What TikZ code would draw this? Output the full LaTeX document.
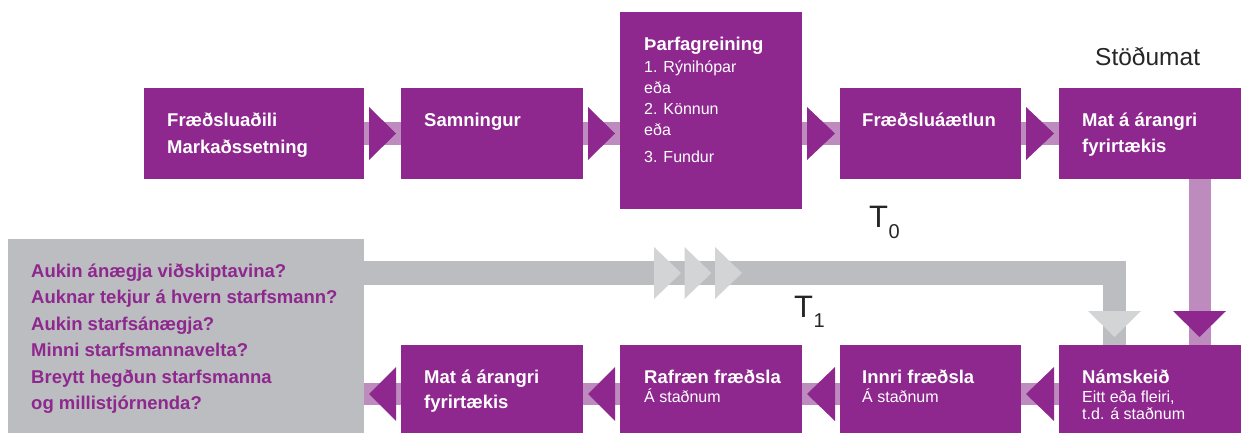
\documentclass[tikz,border=0pt]{standalone}
\usepackage{fontspec}
\setmainfont{Liberation Sans}
\usetikzlibrary{calc}
\definecolor{dp}{HTML}{8E278E}
\definecolor{lp}{HTML}{BD8BBE}
\definecolor{gb}{HTML}{BCBDC0}
\definecolor{lg}{HTML}{D3D4D6}
\newcommand\myB{\bfseries\fontsize{18.5}{22}\selectfont}
\newcommand\myL{\fontsize{16}{19}\selectfont}
\begin{document}
\begin{tikzpicture}[x=1pt,y=-1pt,
  box/.style={fill=dp, inner sep=0pt, outer sep=0pt, anchor=north west},
  greybox/.style={fill=gb, inner sep=0pt, outer sep=0pt, anchor=north west},
  tb/.style={anchor=base west, inner sep=0pt, text=white, font=\myB},
  tl/.style={anchor=base west, inner sep=0pt, text=white, font=\myL},
  tq/.style={anchor=base west, inner sep=0pt, text=dp, font=\myB},
  lbar/.style={draw=lp, line width=22pt},
  gbar/.style={draw=gb, line width=23.5pt, line join=miter},
  tbig/.style={anchor=base west, inner sep=0pt, text=black!85, font=\fontsize{31}{36}\selectfont},
  tsmall/.style={anchor=base west, inner sep=0pt, text=black!85, font=\fontsize{20}{24}\selectfont},
  head/.style={anchor=base west, inner sep=0pt, text=black!85, font=\fontsize{24.5}{28}\selectfont}]
\useasboundingbox (0,0) rectangle (1241,433);

% boxes (top row)
\node[box, minimum width=220pt, minimum height=91pt] (b1) at (144,88) {};
\node[box, minimum width=182pt, minimum height=91pt] (b2) at (401,88) {};
\node[box, minimum width=182pt, minimum height=197pt] (b3) at (620,12) {};
\node[box, minimum width=181pt, minimum height=91pt] (b4) at (840,88) {};
\node[box, minimum width=182pt, minimum height=91pt] (b5) at (1059,88) {};
% boxes (bottom row)
\node[greybox, minimum width=356pt, minimum height=204pt] (g) at (8,239) {};
\node[box, minimum width=182pt, minimum height=98pt] (c1) at (401,345) {};
\node[box, minimum width=182pt, minimum height=98pt] (c2) at (620,345) {};
\node[box, minimum width=181pt, minimum height=98pt] (c3) at (840,345) {};
\node[box, minimum width=182pt, minimum height=98pt] (c4) at (1059,345) {};

% helper coordinates
\coordinate (m2) at (b2.east -| b3.west);
\coordinate (m3) at (b4.west -| b3.east);
\coordinate (v1) at ($(b5.south west)+(140.5,0)$);
\coordinate (v2) at (v1 |- c4.north);
\coordinate (g1) at ($(g.north east)+(0,34)$);
\coordinate (g2) at ($(c4.north west)+(55.5,0)$);
\coordinate (g3) at (c1.west -| g.east);

% connector bars
\draw[lbar] (b1.east) -- (b2.west);
\draw[lbar] (b2.east) -- (m2);
\draw[lbar] (m3) -- (b4.west);
\draw[lbar] (b4.east) -- (b5.west);
\draw[lbar] (v1) -- (v2);
\draw[gbar] (g1) -- (g1 -| g2) -- (g2);
\draw[lbar] (c4.west) -- (c3.east);
\draw[lbar] (c3.west) -- (c2.east);
\draw[lbar] (c2.west) -- (c1.east);
\draw[lbar] (c1.west) -- (g3);

% arrow heads top row (right pointing)
\fill[dp] ($(b1.east)+(5,-26.5)$) -- ++(0,53) -- ($(b2.west)+(-5,0)$) -- cycle;
\fill[dp] ($(b2.east)+(5,-26.5)$) -- ++(0,53) -- ($(m2)+(-5,0)$) -- cycle;
\fill[dp] ($(m3)+(5,-26.5)$) -- ++(0,53) -- ($(b4.west)+(-5,0)$) -- cycle;
\fill[dp] ($(b4.east)+(5,-26.5)$) -- ++(0,53) -- ($(b5.west)+(-5,0)$) -- cycle;
% down arrows
\fill[dp] ($(v2)+(-26.5,-34)$) -- ++(53,0) -- ($(v2)+(0,-8)$) -- cycle;
\fill[lg] ($(g2)+(-26.5,-34)$) -- ++(53,0) -- ($(g2)+(0,-8)$) -- cycle;
% chevrons on grey bar
\foreach \dx in {290,320.5,351}
  \fill[lg] ($(g1)+(\dx,-26)$) -- ++(0,52) -- ($(g1)+(\dx+27,0)$) -- cycle;
% bottom row arrow heads (left pointing)
\fill[dp] ($(c4.west)+(-5,-27)$) -- ++(0,54) -- ($(c3.east)+(5,0)$) -- cycle;
\fill[dp] ($(c3.west)+(-5,-27)$) -- ++(0,54) -- ($(c2.east)+(5,0)$) -- cycle;
\fill[dp] ($(c2.west)+(-5,-27)$) -- ++(0,54) -- ($(c1.east)+(5,0)$) -- cycle;
\fill[dp] ($(c1.west)+(-5,-27)$) -- ++(0,54) -- ($(g3)+(5,0)$) -- cycle;

% texts top row
\node[tb] (b1a) at ($(b1.north west)+(23,39)$) {Fræðsluaðili};
\node[tb] (b1b) at ($(b1.north west)+(23,65)$) {Markaðssetning};
\node[tb] (b2a) at ($(b2.north west)+(23,39)$) {Samningur};
\node[tb] (b3a) at ($(b3.north west)+(24,39)$) {Þarfagreining};
\node[tl] (b3b) at ($(b3.north west)+(24,61)$) {1. Rýnihópar};
\node[tl] (b3c) at ($(b3.north west)+(24,81.5)$) {eða};
\node[tl] (b3d) at ($(b3.north west)+(24,102)$) {2. Könnun};
\node[tl] (b3e) at ($(b3.north west)+(24,123.5)$) {eða};
\node[tl] (b3f) at ($(b3.north west)+(24,150)$) {3. Fundur};
\node[tb] (b4a) at ($(b4.north west)+(22,39)$) {Fræðsluáætlun};
\node[tb] (b5a) at ($(b5.north west)+(23,39)$) {Mat á árangri};
\node[tb] (b5b) at ($(b5.north west)+(23,64)$) {fyrirtækis};
\node[head] (st) at (1095,66) {Stöðumat};

% T labels
\node[tbig] (t0) at (869,227) {T};
\node[tsmall] (t0s) at (888.5,238) {0};
\node[tbig] (t1) at (794,317) {T};
\node[tsmall] (t1s) at (813.5,327) {1};

% grey box text
\node[tq] (q1) at ($(g.north west)+(23,38)$) {Aukin ánægja viðskiptavina?};
\node[tq] (q2) at ($(g.north west)+(23,64.5)$) {Auknar tekjur á hvern starfsmann?};
\node[tq] (q3) at ($(g.north west)+(23,91)$) {Aukin starfsánægja?};
\node[tq] (q4) at ($(g.north west)+(23,117.5)$) {Minni starfsmannavelta?};
\node[tq] (q5) at ($(g.north west)+(23,144)$) {Breytt hegðun starfsmanna};
\node[tq] (q6) at ($(g.north west)+(23,170.5)$) {og millistjórnenda?};

% texts bottom row
\node[tb] (c1a) at ($(c1.north west)+(23,38)$) {Mat á árangri};
\node[tb] (c1b) at ($(c1.north west)+(23,63)$) {fyrirtækis};
\node[tb] (c2a) at ($(c2.north west)+(24,38)$) {Rafræn fræðsla};
\node[tl] (c2b) at ($(c2.north west)+(24,57)$) {Á staðnum};
\node[tb] (c3a) at ($(c3.north west)+(22,38)$) {Innri fræðsla};
\node[tl] (c3b) at ($(c3.north west)+(22,57)$) {Á staðnum};
\node[tb] (c4a) at ($(c4.north west)+(23,38)$) {Námskeið};
\node[tl] (c4b) at ($(c4.north west)+(23,57)$) {Eitt eða fleiri,};
\node[tl] (c4c) at ($(c4.north west)+(23,74)$) {t.d. á staðnum};
\end{tikzpicture}
\end{document}
